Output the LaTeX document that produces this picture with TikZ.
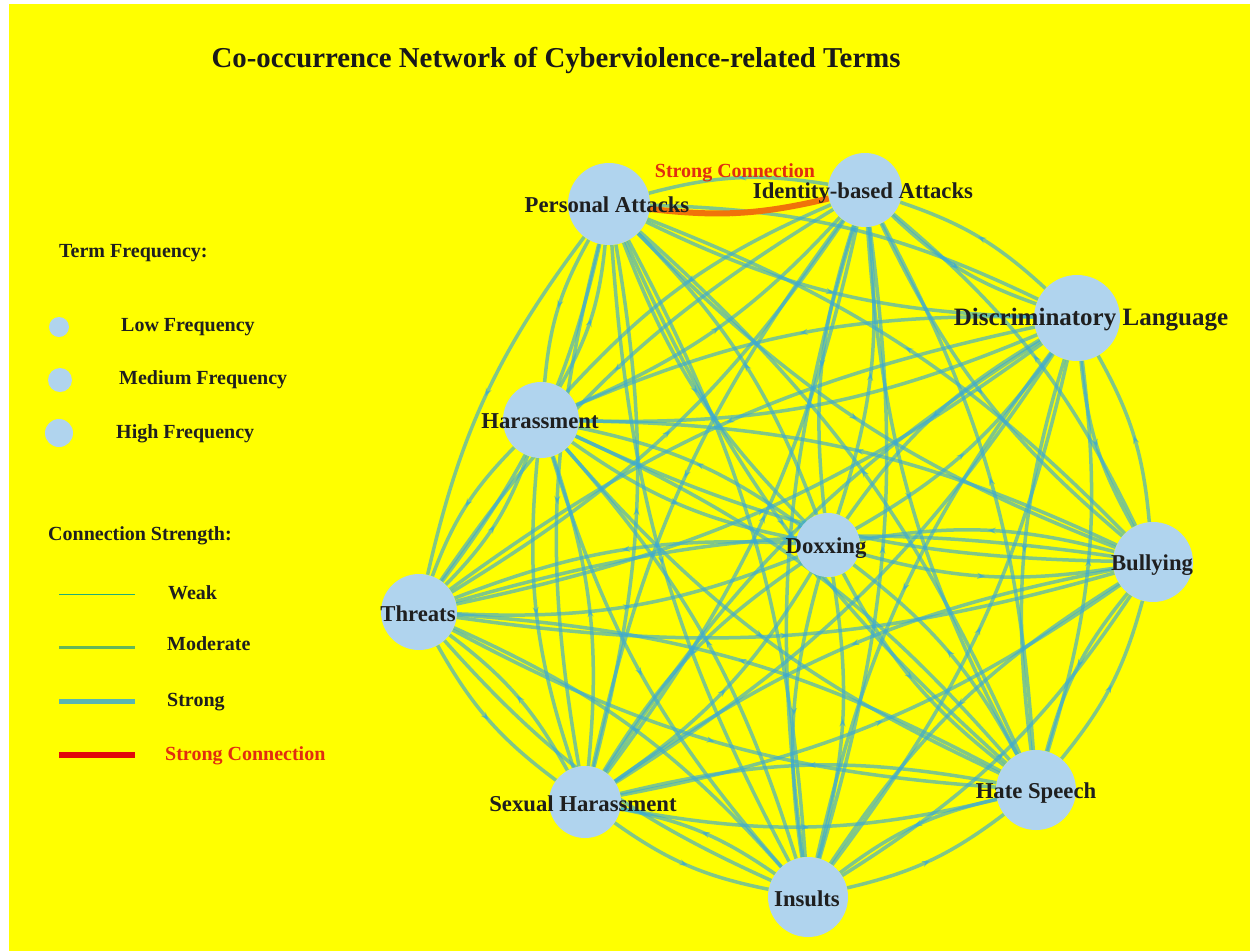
\documentclass[tikz,border=0pt]{standalone}
\usepackage{fontspec}
\setmainfont{Liberation Serif}
\usetikzlibrary{arrows.meta,decorations.markings}
\definecolor{bgyellow}{RGB}{255,255,0}
\definecolor{nodeblue}{RGB}{176,212,238}
\definecolor{edgeblue}{RGB}{60,170,210}
\definecolor{strongred}{RGB}{225,45,15}
\definecolor{legred}{RGB}{225,10,10}
\definecolor{strongorange}{RGB}{240,115,10}
\pgfdeclarelayer{bg}
\pgfdeclarelayer{edges}
\pgfsetlayers{bg,edges,main}
\tikzset{
  term/.style={circle, fill=nodeblue, draw=none, inner sep=0pt},
  lbl/.style={font=\fontsize{22.7}{26}\selectfont\bfseries, text=black!88, inner sep=0pt},
  legtext/.style={font=\fontsize{20}{24}\selectfont\bfseries, text=black!88, inner sep=0pt, anchor=west},
  midarrow/.style={postaction={decorate}, decoration={markings, mark=at position 0.5 with {\arrow{Stealth[length=8pt,width=6pt]}}}},
  edge/.style={draw=edgeblue, opacity=0.65, line width=3.5pt, midarrow},
  strongedge/.style={draw=strongorange, line width=6pt, midarrow},
}
\begin{document}
\begin{tikzpicture}[x=1pt,y=-1pt]
\useasboundingbox (0,0) rectangle (1250,951);
\begin{pgfonlayer}{bg}
\fill[white] (0,0) rectangle (1250,951);
\fill[bgyellow] (9,4) rectangle (1250,951);
\end{pgfonlayer}

% title
\node[font=\fontsize{28.8}{33}\selectfont\bfseries, text=black!90, inner sep=0pt] (title) at (556,60) {Co-occurrence Network of Cyberviolence-related Terms};

% terms
\node[term, minimum size=82] (n1) at (609,204) {};
\node[term, minimum size=74] (n2) at (865,190) {};
\node[term, minimum size=86] (n3) at (1077,318) {};
\node[term, minimum size=76] (n4) at (541,420) {};
\node[term, minimum size=64] (n5) at (828,545) {};
\node[term, minimum size=80] (n6) at (1153,562) {};
\node[term, minimum size=76] (n7) at (419,612) {};
\node[term, minimum size=72] (n8) at (585,802) {};
\node[term, minimum size=80] (n9) at (1036,790) {};
\node[term, minimum size=80] (n10) at (808,897) {};

\node[lbl] (l1) at (607,205) {Personal Attacks};
\node[lbl] (l2) at (863,193) {Identity-based Attacks};
\node[lbl, font=\fontsize{25}{28}\selectfont\bfseries] (l3) at (1091,320) {Discriminatory Language};
\node[lbl] (l4) at (540,421) {Harassment};
\node[lbl] (l5) at (826,548) {Doxxing};
\node[lbl] (l6) at (1152,565) {Bullying};
\node[lbl] (l7) at (418,614) {Threats};
\node[lbl] (l8) at (583,804) {Sexual Harassment};
\node[lbl] (l9) at (1036,793) {Hate Speech};
\node[lbl] (l10) at (807,899) {Insults};

% edges
\begin{pgfonlayer}{edges}
\foreach \i in {1,...,10}{
  \foreach \j in {1,...,10}{
    \pgfmathtruncatemacro{\skipit}{(\i==\j) || ((\i==1) && (\j==2))}
    \ifnum\skipit=0 \draw[edge] (n\i) to[bend right=12] (n\j);\fi
  }
}
\draw[strongedge] (n1) to[bend right=10] (n2);
\end{pgfonlayer}
\node[font=\fontsize{20}{24}\selectfont\bfseries, text=strongred, inner sep=0pt] (sclabel) at (735,173) {Strong Connection};

% legend: term frequency
\node[legtext] (tf) at (59,253) {Term Frequency:};
\node[term, minimum size=20] (lowc) at (59,327) {};
\node[term, minimum size=24] (medc) at (60,380) {};
\node[term, minimum size=28] (highc) at (59,433) {};
\node[legtext] (lowt) at (121,327) {Low Frequency};
\node[legtext] (medt) at (119,380) {Medium Frequency};
\node[legtext] (hight) at (116,434) {High Frequency};

% legend: connection strength
\node[legtext] (cs) at (48,536) {Connection Strength:};
\draw[edgeblue!80!black!70!green, line width=1pt] (59,594) -- (135,594);
\draw[edgeblue!75!green!80!black, opacity=0.7, line width=3pt] (59,647) -- (135,647);
\draw[edgeblue, opacity=0.85, line width=5pt] (59,701) -- (135,701);
\draw[legred, line width=6pt] (59,755) -- (135,755);
\node[legtext] (weak) at (168,593) {Weak};
\node[legtext] (mod) at (167,644) {Moderate};
\node[legtext] (str) at (167,702) {Strong};
\node[legtext, text=strongred] (sc) at (165,756) {Strong Connection};
\end{tikzpicture}
\end{document}
